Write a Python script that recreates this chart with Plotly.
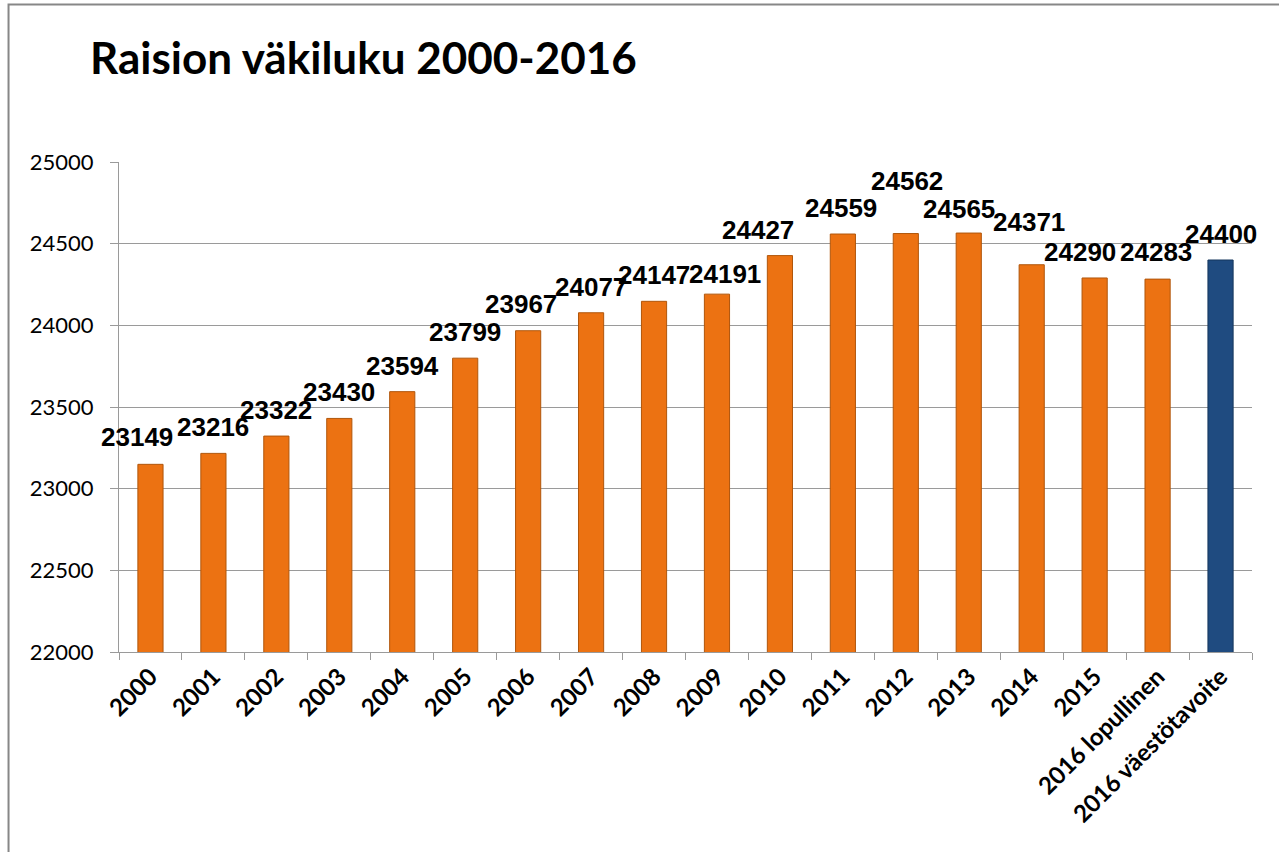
import plotly.graph_objects as go

categories = ["2000", "2001", "2002", "2003", "2004", "2005", "2006", "2007", "2008",
              "2009", "2010", "2011", "2012", "2013", "2014", "2015",
              "2016 lopullinen", "2016 väestötavoite"]
population = [23149, 23216, 23322, 23430, 23594, 23799, 23967, 24077, 24147,
              24191, 24427, 24559, 24562, 24565, 24371, 24290, 24283, 24400]
y_ticks = [22000, 22500, 23000, 23500, 24000, 24500, 25000]

ORANGE = "#EC7212"
ORANGE_EDGE = "#B0560B"
BLUE = "#1F4B80"
BLUE_EDGE = "#15365C"
colors = [ORANGE] * (len(categories) - 1) + [BLUE]
edges = [ORANGE_EDGE] * (len(categories) - 1) + [BLUE_EDGE]

# label nudges in pixels (x shift, y shift above bar top) like the original's manual placement
label_nudge = {"2000": (-13, 27), "2006": (-7, 27), "2009": (8, 20), "2010": (-22, 26),
               "2011": (-2, 26), "2012": (1, 53), "2013": (-10, 24), "2014": (-3, 43),
               "2015": (-15, 26), "2016 lopullinen": (-2, 27)}
DEFAULT_NUDGE = (0, 26)

fig = go.Figure(go.Bar(
    x=categories, y=population,
    marker=dict(color=colors, line=dict(color=edges, width=1)),
    hoverinfo="x+y",
))

for i, (c, v) in enumerate(zip(categories, population)):
    dx, dy = label_nudge.get(c, DEFAULT_NUDGE)
    fig.add_annotation(x=i, y=v, text=f"<b>{v}</b>", showarrow=False,
                       xanchor="center", yanchor="middle",
                       xshift=dx, yshift=dy,
                       font=dict(family="Liberation Sans, Arial", size=26, color="black"))

fig.add_annotation(xref="paper", yref="paper", x=-0.0274, y=1.214,
                   xanchor="left", yanchor="middle", showarrow=False,
                   text="<b>Raision väkiluku 2000-2016</b>",
                   font=dict(family="Lato", size=44, color="black"))

fig.add_shape(type="rect", xref="paper", yref="paper",
              x0=-0.0975, x1=1.1, y0=-0.6, y1=1.3214,
              line=dict(color="#878787", width=2), fillcolor="rgba(0,0,0,0)")

fig.update_layout(
    width=1279, height=852,
    margin=dict(l=119, r=27, t=162, b=200),
    paper_bgcolor="white", plot_bgcolor="white",
    bargap=0.6, showlegend=False,
    font=dict(family="Lato", color="black"),
)
fig.update_yaxes(range=[22000, 25000], tickvals=y_ticks, ticktext=[str(t) for t in y_ticks],
                 showgrid=True, gridcolor="#9A9A9A", gridwidth=1.3,
                 showline=True, linecolor="#9A9A9A", linewidth=1.3,
                 ticks="outside", ticklen=8, tickcolor="#9A9A9A", tickwidth=1.3,
                 ticklabelstandoff=12, tickfont=dict(family="Lato", size=22, color="black"),
                 zeroline=False)
fig.update_xaxes(type="category", range=[-0.5, len(categories) - 0.5],
                 tickangle=-45, tickson="boundaries",
                 showline=True, linecolor="#9A9A9A", linewidth=1.3,
                 ticks="outside", ticklen=7, tickcolor="#9A9A9A", tickwidth=1.3,
                 tickfont=dict(family="Lato", size=24, color="black", weight="bold"),
                 showgrid=False)

fig.write_html("out.html", config={"displayModeBar": False},
               post_script="document.body.style.margin='0';")
